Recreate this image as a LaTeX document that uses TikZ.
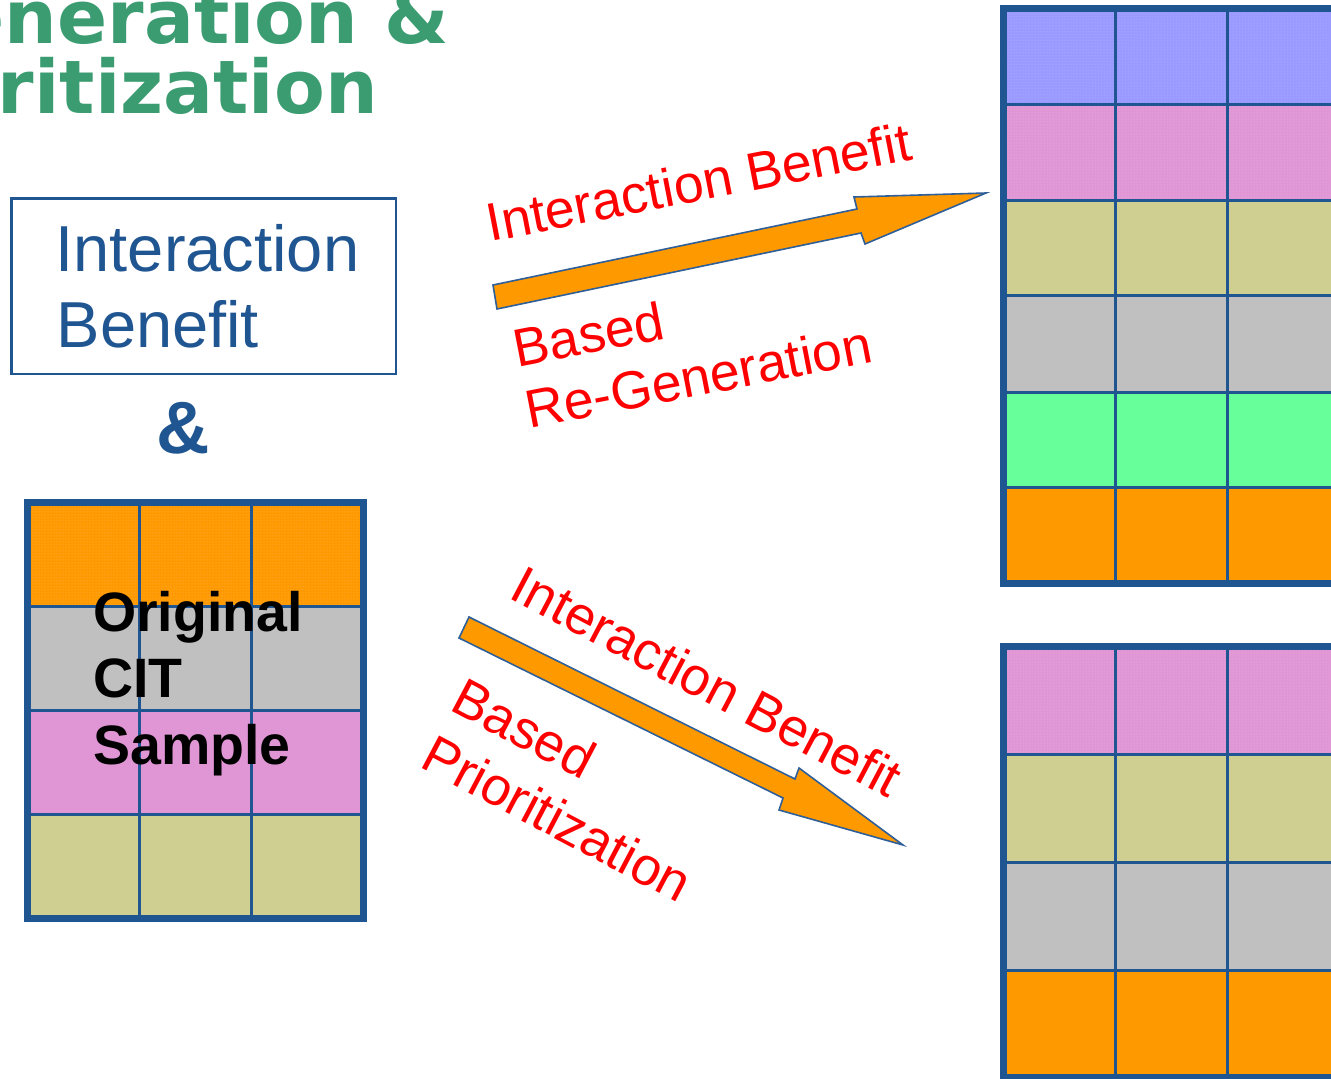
\documentclass[tikz,border=0pt]{standalone}
\usepackage{fontspec}
\usetikzlibrary{patterns}
\setmainfont{Liberation Sans}
\newfontfamily\titlefont{DejaVu Sans}
\definecolor{gridblue}{HTML}{1F5591}
\definecolor{ttlgreen}{HTML}{3A9C70}
\definecolor{orng}{HTML}{FF9900}
\definecolor{gry}{HTML}{C0C0C0}
\definecolor{pnk}{HTML}{E096D5}
\definecolor{khk}{HTML}{CFCF91}
\definecolor{vio}{HTML}{9999FF}
\definecolor{grn}{HTML}{66FF99}
\definecolor{arrowedge}{HTML}{2F5F98}
\definecolor{lblred}{HTML}{FF0000}
\begin{document}
\begin{tikzpicture}[x=1pt,y=-1pt,
  ttl/.style={inner sep=0pt, anchor=base east, text=ttlgreen, font=\titlefont\bfseries\fontsize{74}{74}\selectfont},
  boxtxt/.style={inner sep=0pt, anchor=base west, text=gridblue, font=\fontsize{65}{70}\selectfont},
  amp/.style={inner sep=0pt, anchor=base, text=gridblue, font=\bfseries\fontsize{74}{74}\selectfont},
  cittxt/.style={inner sep=0pt, anchor=base west, text=black, font=\bfseries\fontsize{55.5}{60}\selectfont},
  lbl/.style={inner sep=0pt, anchor=base west, text=lblred, font=\fontsize{53.5}{60}\selectfont},
  inner line/.style={draw=gridblue, line width=3pt},
  outer line/.style={draw=gridblue, line width=7pt},
  texture/.style={pattern=dots, pattern color=white, opacity=0.35},
  blockarrow/.style={fill=orng, draw=arrowedge, line width=1.6pt, line join=miter},
]
\useasboundingbox (0,0) rectangle (1331,1079);
\clip (0,0) rectangle (1331,1079);

% title (cut off at the left edge)
\node[ttl] (t1) at (449,43.3) {eneration \&};
\node[ttl] (t2) at (378,113.3) {ritization};

% Interaction Benefit box
\node[draw=gridblue, line width=2.3pt, minimum width=384.7pt, minimum height=175.7pt, inner sep=0pt] (ibbox) at (203.7,286.2) {};
\node[boxtxt] (ib1) at (55.5,271) {Interaction};
\node[boxtxt] (ib2) at (56.5,347) {Benefit};
\node[amp] (and) at (183,453) {\&};

% left grid: original CIT sample
\foreach \ya/\yb/\c in {502.5/606/orng, 606/710.5/gry, 710.5/814.5/pnk, 814.5/918/khk}
  \fill[\c] (27.5,\ya) rectangle (363.5,\yb);
\fill[texture] (27.5,502.5) rectangle (363.5,606);
\foreach \x in {139.5,251.5} \draw[inner line] (\x,502.5) -- (\x,918);
\foreach \y in {606,710.5,814.5} \draw[inner line] (27.5,\y) -- (363.5,\y);
\draw[outer line] (27.5,502.5) rectangle (363.5,918);
\node[cittxt] (cit1) at (93,631) {Original};
\node[cittxt] (cit2) at (93,697) {CIT};
\node[cittxt] (cit3) at (93,764) {Sample};

% right top grid: re-generation
\foreach \ya/\yb/\c in {8.3/104.6/vio, 104.6/200/pnk, 200/295.9/khk, 295.9/392/gry, 392/487.4/grn, 487.4/583.3/orng}
  \fill[\c] (1003.5,\ya) rectangle (1339.5,\yb);
\fill[texture] (1003.5,8.3) rectangle (1339.5,200);
\foreach \x in {1115.5,1227.5} \draw[inner line] (\x,8.3) -- (\x,583.3);
\foreach \y in {104.6,200,295.9,392,487.4} \draw[inner line] (1003.5,\y) -- (1339.5,\y);
\draw[outer line] (1003.5,8.3) rectangle (1339.5,583.3);

% right bottom grid: prioritization
\foreach \ya/\yb/\c in {646.7/754.3/pnk, 754.3/862.3/khk, 862.3/970.3/gry, 970.3/1077.5/orng}
  \fill[\c] (1003.5,\ya) rectangle (1339.5,\yb);
\fill[texture] (1003.5,646.7) rectangle (1339.5,754.3);
\foreach \x in {1115.5,1227.5} \draw[inner line] (\x,646.7) -- (\x,1077.5);
\foreach \y in {754.3,862.3,970.3} \draw[inner line] (1003.5,\y) -- (1339.5,\y);
\draw[outer line] (1003.5,646.7) rectangle (1339.5,1077.5);

% block arrows
\draw[blockarrow] (493,285) -- (857,209) -- (854,197) -- (986,193) -- (865,244) -- (861,233) -- (497,309) -- cycle;
\draw[blockarrow] (469,617) -- (795,779) -- (799,768) -- (903,845) -- (779,810) -- (783,798) -- (459,638) -- cycle;

% arrow labels
\node[lbl, rotate=11] (ua1) at (490.2,241.9) {Interaction Benefit};
\node[lbl, rotate=11] (ua2) at (517.7,367.5) {Based};
\node[lbl, rotate=11] (ua3) at (529.6,428.8) {Re-Generation};
\node[lbl, rotate=-27.8] (la1) at (507.4,597.7) {Interaction Benefit};
\node[lbl, rotate=-27.8] (la2) at (448.1,709.8) {Based};
\node[lbl, rotate=-27.8] (la3) at (418.3,766.4) {Prioritization};
\end{tikzpicture}
\end{document}
